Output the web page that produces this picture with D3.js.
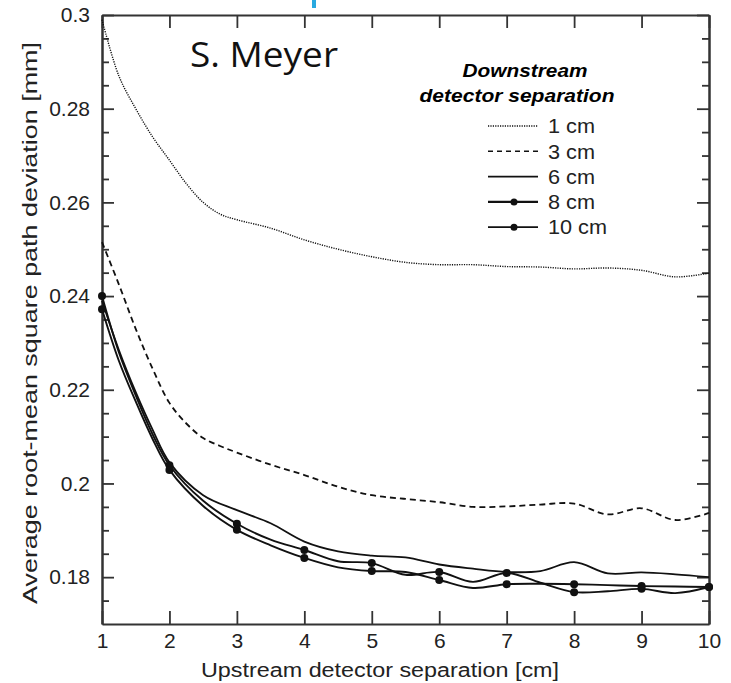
<!DOCTYPE html>
<html>
<head>
<meta charset="utf-8">
<script src="https://cdn.jsdelivr.net/npm/d3@7"></script>
<style>
  body { margin: 0; background: #fff; }
</style>
</head>
<body>
<div id="chart"></div>
<script>
// upstream separation grid (cm)
const xHalf = [1, 1.25, 1.5, 1.75, 2, 2.25, 2.5, 2.75, 3, 3.5, 4, 4.5, 5, 5.5, 6, 6.5, 7, 7.5, 8, 8.5, 9, 9.5, 10];
const xGrid = [1, 1.25, 1.5, 1.75, 2, 2.5, 3, 3.5, 4, 4.5, 5, 5.5, 6, 6.5, 7, 7.5, 8, 8.5, 9, 9.5, 10];
const xMarks = [1, 2, 3, 4, 5, 6, 7, 8, 9, 10];

// downstream 1 cm (dotted)
const d1 = [0.2990, 0.2870, 0.2800, 0.2740, 0.2690, 0.2640, 0.2600, 0.2575, 0.2563, 0.2545, 0.2520, 0.2500, 0.2484, 0.2472, 0.2467, 0.2467, 0.2463, 0.2462, 0.2458, 0.2460, 0.2455, 0.2441, 0.2449];
// downstream 3 cm (dashed)
const d3cm = [0.2515, 0.2425, 0.2330, 0.2245, 0.2172, 0.2128, 0.2097, 0.2080, 0.2066, 0.2040, 0.2018, 0.1993, 0.1975, 0.1967, 0.1960, 0.1950, 0.1951, 0.1955, 0.1957, 0.1934, 0.1947, 0.1922, 0.1937];
// downstream 6 cm (solid)
const d6 = [0.2390, 0.2285, 0.2195, 0.2115, 0.2045, 0.1975, 0.1943, 0.1915, 0.1876, 0.1855, 0.1846, 0.1842, 0.1827, 0.1818, 0.1811, 0.1813, 0.1832, 0.1808, 0.1810, 0.1806, 0.1800];
// downstream 8 cm (solid + dots)
const d8 = [0.2400, 0.2280, 0.2188, 0.2105, 0.2039, 0.1963, 0.1914, 0.1880, 0.1858, 0.1834, 0.1830, 0.1805, 0.1811, 0.1790, 0.1809, 0.1788, 0.1768, 0.1770, 0.1775, 0.1766, 0.1779];
// downstream 10 cm (solid + dots)
const d10 = [0.2372, 0.2262, 0.2175, 0.2095, 0.2029, 0.1952, 0.1901, 0.1868, 0.1841, 0.1821, 0.1813, 0.1811, 0.1794, 0.1777, 0.1785, 0.1786, 0.1785, 0.1783, 0.1781, 0.1780, 0.1779];

const yTicks = [0.18, 0.2, 0.22, 0.24, 0.26, 0.28, 0.3];
const legendLabels = ["1 cm", "3 cm", "6 cm", "8 cm", "10 cm"];

const width = 731, height = 683;
const margin = { top: 15, right: 22, bottom: 59, left: 102 };
const sans = "'Liberation Sans', Arial, sans-serif";

const svg = d3.select("#chart").append("svg")
    .attr("width", width)
    .attr("height", height)
    .attr("font-family", sans);

const x = d3.scaleLinear().domain([1, 10]).range([margin.left, width - margin.right]);
const y = d3.scaleLinear().domain([0.17, 0.3]).range([height - margin.bottom, margin.top]);

// little cyan mark at the top (slide artefact)
svg.append("rect").attr("x", 312).attr("y", 0).attr("width", 4).attr("height", 8).attr("fill", "#29a9e0");

const minorY = d3.range(0.175, 0.3, 0.005).filter(v => !yTicks.some(t => Math.abs(t - v) < 1e-6));

// axes (ticks pointing inward)
const axisColor = "#333";
const gx = svg.append("g").attr("transform", `translate(0,${y.range()[0]})`)
    .call(d3.axisBottom(x).tickValues(xMarks).tickSizeInner(-13).tickSizeOuter(0).tickPadding(9).tickFormat(d3.format("d")));
const gxTop = svg.append("g").attr("transform", `translate(0,${y.range()[1]})`)
    .call(d3.axisTop(x).tickValues(xMarks).tickSizeInner(-13).tickSizeOuter(0).tickFormat(""));
const gy = svg.append("g").attr("transform", `translate(${x.range()[0]},0)`)
    .call(d3.axisLeft(y).tickValues(yTicks).tickSizeInner(-12).tickSizeOuter(0).tickPadding(12).tickFormat(d => String(+d.toFixed(2))));
const gyMinor = svg.append("g").attr("transform", `translate(${x.range()[0]},0)`)
    .call(d3.axisLeft(y).tickValues(minorY).tickSizeInner(-7).tickSizeOuter(0).tickFormat(""));
const gyR = svg.append("g").attr("transform", `translate(${x.range()[1]},0)`)
    .call(d3.axisRight(y).tickValues(yTicks).tickSizeInner(-12).tickSizeOuter(0).tickFormat(""));
const gyRMinor = svg.append("g").attr("transform", `translate(${x.range()[1]},0)`)
    .call(d3.axisRight(y).tickValues(minorY).tickSizeInner(-7).tickSizeOuter(0).tickFormat(""));

[gx, gxTop, gy, gyMinor, gyR, gyRMinor].forEach(g => {
    g.attr("font-family", sans);
    g.select(".domain").attr("stroke", axisColor).attr("stroke-width", 2);
    g.selectAll(".tick line").attr("stroke", axisColor).attr("stroke-width", 1.8);
    g.selectAll(".tick text").attr("font-size", 21).attr("fill", "#222");
});

// axis labels
svg.append("text")
    .attr("x", 380).attr("y", 677)
    .attr("text-anchor", "middle")
    .attr("font-size", 20)
    .attr("fill", "#222")
    .attr("textLength", 358).attr("lengthAdjust", "spacingAndGlyphs")
    .text("Upstream detector separation [cm]");

svg.append("text")
    .attr("transform", "translate(37,323) rotate(-90)")
    .attr("text-anchor", "middle")
    .attr("font-size", 21)
    .attr("fill", "#222")
    .attr("textLength", 562).attr("lengthAdjust", "spacingAndGlyphs")
    .text("Average root-mean square path deviation [mm]");

// curves
const line = (xs) => d3.line()
    .x((d, i) => x(xs[i]))
    .y(d => y(d))
    .curve(d3.curveCatmullRom.alpha(0.5));

const plot = svg.append("g");
plot.append("path").datum(d1).attr("d", line(xHalf))
    .attr("fill", "none").attr("stroke", "#111").attr("stroke-width", 1.4).attr("stroke-dasharray", "1.2,1.2");
plot.append("path").datum(d3cm).attr("d", line(xHalf))
    .attr("fill", "none").attr("stroke", "#111").attr("stroke-width", 1.8).attr("stroke-dasharray", "6,4");
plot.append("path").datum(d6).attr("d", line(xGrid))
    .attr("fill", "none").attr("stroke", "#111").attr("stroke-width", 1.8);
[d8, d10].forEach(s => {
    plot.append("path").datum(s).attr("d", line(xGrid))
        .attr("fill", "none").attr("stroke", "#111").attr("stroke-width", 1.9);
    plot.selectAll(null).data(xMarks).enter().append("circle")
        .attr("cx", d => x(d))
        .attr("cy", d => y(s[xGrid.indexOf(d)]))
        .attr("r", 4)
        .attr("fill", "#111");
});

// author text
svg.append("text")
    .attr("x", 190).attr("y", 67)
    .attr("font-family", "'Open Sans', 'DejaVu Sans', sans-serif")
    .attr("font-size", 35)
    .attr("fill", "#111")
    .attr("textLength", 148).attr("lengthAdjust", "spacingAndGlyphs")
    .text("S. Meyer");

// legend
const lg = svg.append("g");
lg.append("text").attr("x", 525).attr("y", 77).attr("text-anchor", "middle")
    .attr("font-size", 19).attr("font-weight", "bold").attr("font-style", "italic")
    .attr("textLength", 125).attr("lengthAdjust", "spacingAndGlyphs")
    .text("Downstream");
lg.append("text").attr("x", 517).attr("y", 102).attr("text-anchor", "middle")
    .attr("font-size", 19).attr("font-weight", "bold").attr("font-style", "italic")
    .attr("textLength", 195).attr("lengthAdjust", "spacingAndGlyphs")
    .text("detector separation");

const dashes = ["1.2,1.2", "5,4", null, null, null];
const widths = [1.4, 1.6, 1.8, 2.2, 1.8];
legendLabels.forEach((lab, i) => {
    const yy = 126 + i * 25.3;
    lg.append("line").attr("x1", 488).attr("x2", 538).attr("y1", yy).attr("y2", yy)
        .attr("stroke", "#111").attr("stroke-width", widths[i])
        .attr("stroke-dasharray", dashes[i]);
    if (i >= 3) lg.append("circle").attr("cx", 514).attr("cy", yy).attr("r", 3.5).attr("fill", "#111");
    lg.append("text").attr("x", 548).attr("y", yy).attr("dy", "0.36em")
        .attr("font-size", 20)
        .attr("fill", "#222")
        .attr("textLength", lab.length === 4 ? 47 : 59).attr("lengthAdjust", "spacingAndGlyphs")
        .text(lab);
});
</script>
</body>
</html>
